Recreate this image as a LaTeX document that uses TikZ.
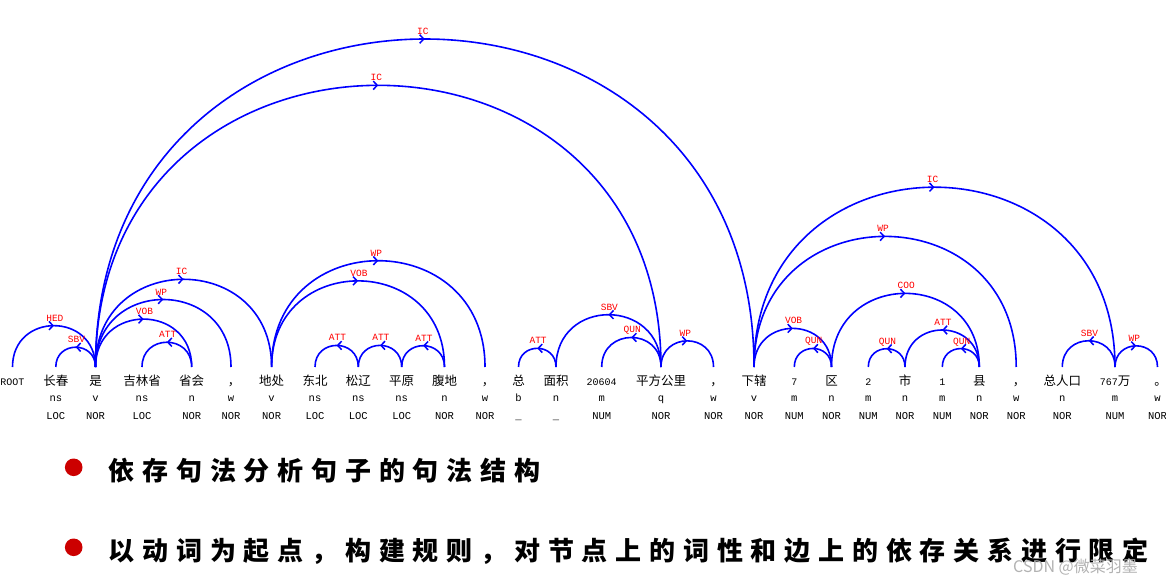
\documentclass[tikz,border=0pt]{standalone}
\usepackage{fontspec}
\usetikzlibrary{arrows.meta,decorations.markings}
\newfontfamily\cjk{Noto Sans CJK SC}
\newfontfamily\mono{Liberation Mono}
\newfontfamily\bigA{Noto Sans CJK SC}[LetterSpace=30]
\newcommand{\wnum}[1]{{\mono\fontsize{10}{12}\selectfont #1}}
\definecolor{arcblue}{RGB}{0,0,255}
\definecolor{labred}{RGB}{255,0,0}
\definecolor{dotred}{RGB}{204,0,0}
\begin{document}
\begin{tikzpicture}[x=1pt,y=1pt,
  dep/.style={draw=arcblue, line width=1.6pt, postaction={decorate},
    decoration={markings, mark=at position 0.5 with {\arrow[arcblue]{Straight Barb[length=4pt,width=8.5pt,line width=1.5pt]}}}},
  lab/.style={anchor=base west, inner sep=0pt, xshift=-8.5pt, yshift=4.5pt, text=labred, font=\mono\fontsize{9.5}{10}\selectfont},
  word/.style={anchor=base, inner sep=0pt, font=\cjk\fontsize{12.5}{14}\selectfont},
  tag/.style={anchor=base, inner sep=0pt, font=\mono\fontsize{10.5}{12}\selectfont},
  bullet/.style={fill=dotred, draw=none, circle, minimum size=17.6pt, inner sep=0pt},
  bigline/.style={anchor=base west, inner sep=0pt, text=black, font=\bigA\bfseries\fontsize{26}{28}\selectfont},
  curve/.style={out=90, in=90, looseness=1.703}
]
\useasboundingbox (0,0) rectangle (1166,584);

% ROOT
\coordinate (t0) at (12.5,217);
\node[word] (w0) at (12.5,199) {\wnum{ROOT}};

\foreach \i/\x/\w/\p/\e in {
  1/55.8/长春/ns/LOC,
  2/95.5/是/v/NOR,
  3/142/吉林省/ns/LOC,
  4/191.7/省会/n/NOR,
  5/231/\kern6pt ，/w/NOR,
  6/271.6/地处/v/NOR,
  7/315/东北/ns/LOC,
  8/358.3/松辽/ns/LOC,
  9/401.7/平原/ns/LOC,
  10/444.5/腹地/n/NOR,
  11/485/\kern6pt ，/w/NOR,
  12/518.5/总/b/\_,
  13/556/面积/n/\_,
  14/601.7/\wnum{20604}/m/NUM,
  15/661/平方公里/q/NOR,
  16/713.5/\kern6pt ，/w/NOR,
  17/754/下辖/v/NOR,
  18/794.3/\wnum{7}/m/NUM,
  19/831.5/区/n/NOR,
  20/868.3/\wnum{2}/m/NUM,
  21/905/市/n/NOR,
  22/942.3/\wnum{1}/m/NUM,
  23/979.3/县/n/NOR,
  24/1016.2/\kern6pt ，/w/NOR,
  25/1062.3/总人口/n/NOR,
  26/1115/\wnum{767}万/m/NUM,
  27/1157.5/\kern6pt 。/w/NOR}
{
  \coordinate (t\i) at (\x,217);
  \node[word] (w\i) at (\x,199) {\w};
  \node[tag] (p\i) at (\x,182.3) {\p};
  \node[tag] (e\i) at (\x,164.7) {\e};
}

% dependency arcs (head -> dependent)
\draw[dep] (t0)  to[curve] node[lab,midway]{HED} (t2);
\draw[dep] (t2)  to[curve] node[lab,midway]{SBV} (t1);
\draw[dep] (t2)  to[curve] node[lab,midway]{VOB} (t4);
\draw[dep] (t4)  to[curve] node[lab,midway]{ATT} (t3);
\draw[dep] (t2)  to[curve] node[lab,midway]{WP}  (t5);
\draw[dep] (t2)  to[curve] node[lab,midway]{IC}  (t6);
\draw[dep] (t2)  to[curve] node[lab,midway]{IC}  (t15);
\draw[dep] (t2)  to[curve] node[lab,midway]{IC}  (t17);
\draw[dep] (t6)  to[curve] node[lab,midway]{VOB} (t10);
\draw[dep] (t6)  to[curve] node[lab,midway]{WP}  (t11);
\draw[dep] (t10) to[curve] node[lab,midway]{ATT} (t9);
\draw[dep] (t9)  to[curve] node[lab,midway]{ATT} (t8);
\draw[dep] (t8)  to[curve] node[lab,midway]{ATT} (t7);
\draw[dep] (t13) to[curve] node[lab,midway]{ATT} (t12);
\draw[dep] (t15) to[curve] node[lab,midway]{SBV} (t13);
\draw[dep] (t15) to[curve] node[lab,midway]{QUN} (t14);
\draw[dep] (t15) to[curve] node[lab,midway]{WP}  (t16);
\draw[dep] (t17) to[curve] node[lab,midway]{VOB} (t19);
\draw[dep] (t19) to[curve] node[lab,midway]{QUN} (t18);
\draw[dep] (t19) to[curve] node[lab,midway]{COO} (t23);
\draw[dep] (t21) to[curve] node[lab,midway]{QUN} (t20);
\draw[dep] (t23) to[curve] node[lab,midway]{ATT} (t21);
\draw[dep] (t23) to[curve] node[lab,midway]{QUN} (t22);
\draw[dep] (t17) to[curve] node[lab,midway]{WP}  (t24);
\draw[dep] (t17) to[curve] node[lab,midway]{IC}  (t26);
\draw[dep] (t26) to[curve] node[lab,midway]{SBV} (t25);
\draw[dep] (t26) to[curve] node[lab,midway]{WP}  (t27);

% bullet lines
\node[bullet] (b1) at (73.7,116.7) {};
\node[bullet] (b2) at (73.7,36.7) {};
\node[bigline] (l1) at (108.5,104) {依存句法分析句子的句法结构};
\node[bigline] (l2) at (108.5,24) {以动词为起点，构建规则，对节点上的词性和边上的依存关系进行限定};

% watermark
\node[anchor=base west, inner sep=0pt, text=black!30, font=\cjk\fontsize{16}{18}\selectfont] (wm) at (1013,12) {CSDN @微菜羽墨};
\end{tikzpicture}
\end{document}
